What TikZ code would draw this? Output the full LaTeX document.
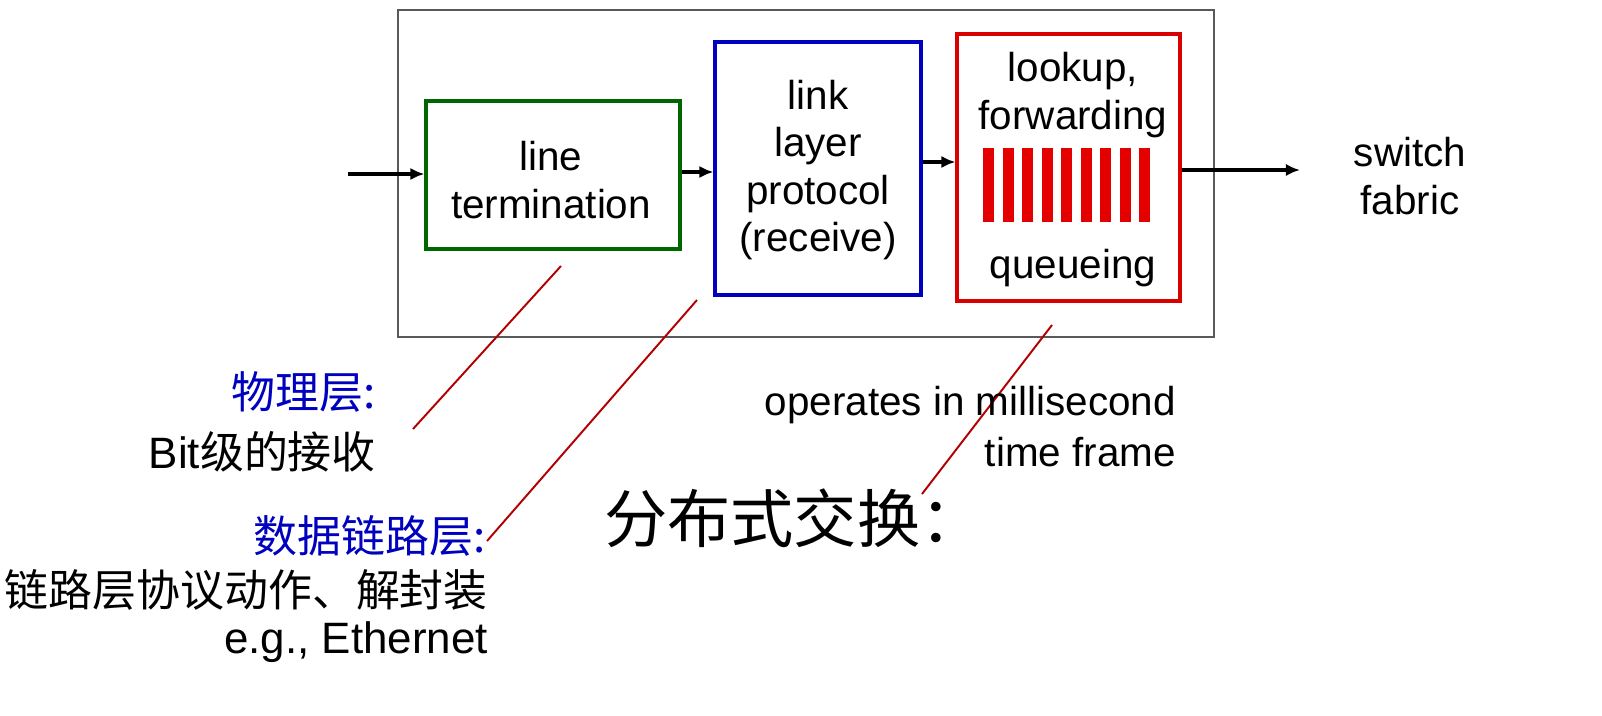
\documentclass[tikz,border=0pt]{standalone}
\usepackage{fontspec}
\setmainfont{Liberation Sans}
\newfontfamily\cjk{Noto Sans CJK SC}
\usetikzlibrary{arrows.meta}
\begin{document}
\begin{tikzpicture}[x=0.02cm,y=-0.02cm,
  box/.style={draw,line width=1.8pt,inner sep=0pt},
  lbl/.style={font=\fontsize{23}{27}\selectfont,align=center},
  arr/.style={-{Latex[length=8pt,width=7pt]},line width=2pt},
  lead/.style={draw=red!70!black,line width=1.1pt},
  zh/.style={font=\cjk\fontsize{25}{30}\selectfont,anchor=east}]
\draw[gray!70!black,line width=1.3pt] (398,10) rectangle (1214,337);
\node[box,draw=green!40!black,minimum width=254*0.02cm,minimum height=148*0.02cm] (lt) at (553,175) {};
\node[lbl] at (551,180) {line\\termination};
\node[box,draw=blue!75!black,minimum width=206*0.02cm,minimum height=253*0.02cm] (ll) at (818,168.5) {};
\node[lbl] at (818,170) {link\\layer\\protocol\\(receive)};
\node[box,draw=red!85!black,minimum width=223*0.02cm,minimum height=267*0.02cm] (lk) at (1068.5,167.5) {};
\node[lbl] (lkt) at (1073,95) {lookup,\\forwarding};
\node[lbl] at (1073,268) {queueing};
\foreach \i in {0,...,8} \fill[red!90!black] (983+\i*19.5,148) rectangle ++(11,74);
\coordinate (in) at (348,174);
\coordinate (out) at (1300,170);
\draw[arr] (in) -- (lt.west|-in);
\draw[arr] (lt.east|-0,172) -- (ll.west|-0,172);
\draw[arr] (ll.east|-0,162) -- (lk.west|-0,162);
\draw[arr] (lk.east|-0,170) -- (out);
\node[lbl] (sf) at (1410,176) {switch\\fabric};
\draw[lead] (561,266) -- (413,429);
\draw[lead] (697,300) -- (487,541);
\draw[lead] (1052,325) -- (922,494);
\node[zh,text=blue!75!black] at (382,392) {物理层:};
\node[zh] at (382,452) {\fontspec{Liberation Sans}Bit\cjk 级的接收};
\node[zh,text=blue!75!black] at (492,536) {数据链路层:};
\node[zh] at (494,590) {链路层协议动作、解封装};
\node[zh,font=\fontsize{25}{28}\selectfont] at (494,642) {e.g., Ethernet};
\node[font=\fontsize{23}{29}\selectfont,align=right,anchor=east] at (1182,427) {operates in millisecond\\time frame};
\node[font=\cjk\fontsize{36}{40}\selectfont,anchor=west] at (598,518) {分布式交换：};
\pgfresetboundingbox
\useasboundingbox (0,0) rectangle (1602,716);
\end{tikzpicture}
\end{document}
